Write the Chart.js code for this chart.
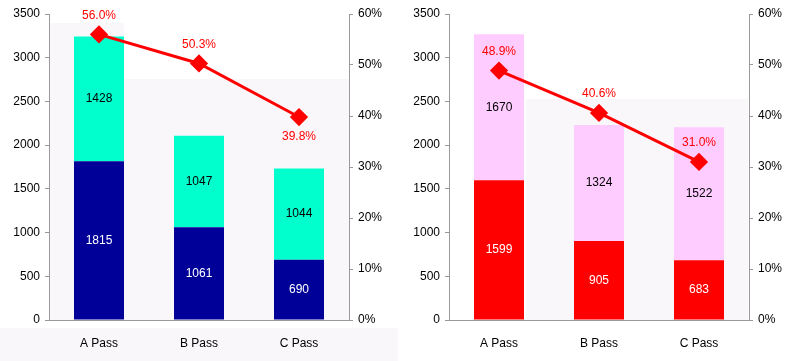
<!DOCTYPE html>
<html>
<head>
<meta charset="utf-8">
<script src="https://cdn.jsdelivr.net/npm/chart.js@4"></script>
<style>
  html, body { margin: 0; padding: 0; background: #fff; }
  #wrap { display: flex; width: 800px; height: 361px; }
  canvas { display: block; }
</style>
</head>
<body>
<div id="wrap">
  <canvas id="c1" width="400" height="361"></canvas>
  <canvas id="c2" width="400" height="361"></canvas>
</div>
<script>
const categories = ['A Pass', 'B Pass', 'C Pass'];
const leftBottom = [1815, 1061, 690];
const leftTop = [1428, 1047, 1044];
const leftRate = [56.0, 50.3, 39.8];
const rightBottom = [1599, 905, 683];
const rightTop = [1670, 1324, 1522];
const rightRate = [48.9, 40.6, 31.0];
const countTicks = [0, 500, 1000, 1500, 2000, 2500, 3000, 3500];
const rateTicks = [0, 10, 20, 30, 40, 50, 60];

const FONT = 'Liberation Sans, Arial, sans-serif';

const labelPlugin = {
  id: 'valueLabels',
  afterDatasetsDraw(chart, args, opts) {
    const ctx = chart.ctx;
    ctx.save();
    ctx.font = '12px ' + FONT;
    ctx.textAlign = 'center';
    ctx.textBaseline = 'middle';
    chart.data.datasets.forEach((ds, di) => {
      const meta = chart.getDatasetMeta(di);
      meta.data.forEach((el, i) => {
        if (ds.type === 'line') {
          ctx.fillStyle = '#ff0000';
          const below = (opts.below || [])[i];
          const y = below ? el.y + 20 : el.y - 19;
          ctx.fillText(ds.data[i].toFixed(1) + '%', el.x, y);
        } else {
          ctx.fillStyle = ds.labelColor;
          const yc = (el.y + el.base) / 2;
          ctx.fillText(String(ds.data[i]), el.x, yc);
        }
      });
    });
    ctx.restore();
  }
};

const bgPlugin = {
  id: 'bgShade',
  beforeDraw(chart, args, opts) {
    const ctx = chart.ctx;
    ctx.save();
    ctx.fillStyle = '#faf7fa';
    (opts.rects || []).forEach(r => {
      ctx.fillRect(r[0], r[1], r[2] - r[0], r[3] - r[1]);
    });
    ctx.restore();
  }
};

function makeChart(id, bottom, top, rate, bottomColor, topColor, belowFlags, bgRects) {
  return new Chart(document.getElementById(id), {
    data: {
      labels: categories,
      datasets: [
        { type: 'line', data: rate, yAxisID: 'y1', borderColor: '#ff0000', backgroundColor: '#ff0000',
          borderWidth: 3, pointStyle: 'rectRot', pointRadius: 7, pointHoverRadius: 7, order: 0, tension: 0 },
        { type: 'bar', data: bottom, backgroundColor: bottomColor, labelColor: '#ffffff', yAxisID: 'y', order: 1,
          barPercentage: 0.5, categoryPercentage: 1.0, stack: 's' },
        { type: 'bar', data: top, backgroundColor: topColor, labelColor: '#000000', yAxisID: 'y', order: 1,
          barPercentage: 0.5, categoryPercentage: 1.0, stack: 's' }
      ]
    },
    options: {
      responsive: false,
      animation: false,
      events: [],
      layout: { padding: { top: 14, left: 0, right: 0, bottom: 0 } },
      plugins: {
        legend: { display: false },
        tooltip: { enabled: false },
        valueLabels: { below: belowFlags },
        bgShade: { rects: bgRects }
      },
      scales: {
        x: {
          stacked: true,
          grid: { display: false },
          border: { display: true, color: '#999999', width: 1 },
          ticks: { color: '#000', font: { size: 12, family: FONT }, padding: 8 },
          afterFit(s) { s.height = 41; }
        },
        y: {
          stacked: true, position: 'left', min: 0, max: 3500,
          afterBuildTicks(s) { s.ticks = countTicks.map(v => ({ value: v })); },
          grid: { display: true, drawOnChartArea: false, drawTicks: true, tickLength: 4, color: '#999999' },
          border: { display: true, color: '#999999', width: 1 },
          ticks: { color: '#000', font: { size: 12, family: FONT }, padding: 5, callback: v => String(v) },
          afterFit(s) { s.width = 49; }
        },
        y1: {
          position: 'right', min: 0, max: 60,
          afterBuildTicks(s) { s.ticks = rateTicks.map(v => ({ value: v })); },
          grid: { display: true, drawOnChartArea: false, drawTicks: true, tickLength: 4, color: '#999999' },
          border: { display: true, color: '#999999', width: 1 },
          ticks: { color: '#000', font: { size: 12, family: FONT }, padding: 5, callback: v => v + '%' },
          afterFit(s) { s.width = 51; }
        }
      }
    },
    plugins: [bgPlugin, labelPlugin]
  });
}

makeChart('c1', leftBottom, leftTop, leftRate, '#000099', '#00ffcc', [false, false, true],
  [[50, 23, 124, 79], [50, 79, 349, 320], [0, 328, 398, 361]]);
makeChart('c2', rightBottom, rightTop, rightRate, '#ff0000', '#ffccff', [false, false, false],
  [[126, 99, 348, 320]]);
</script>
</body>
</html>
